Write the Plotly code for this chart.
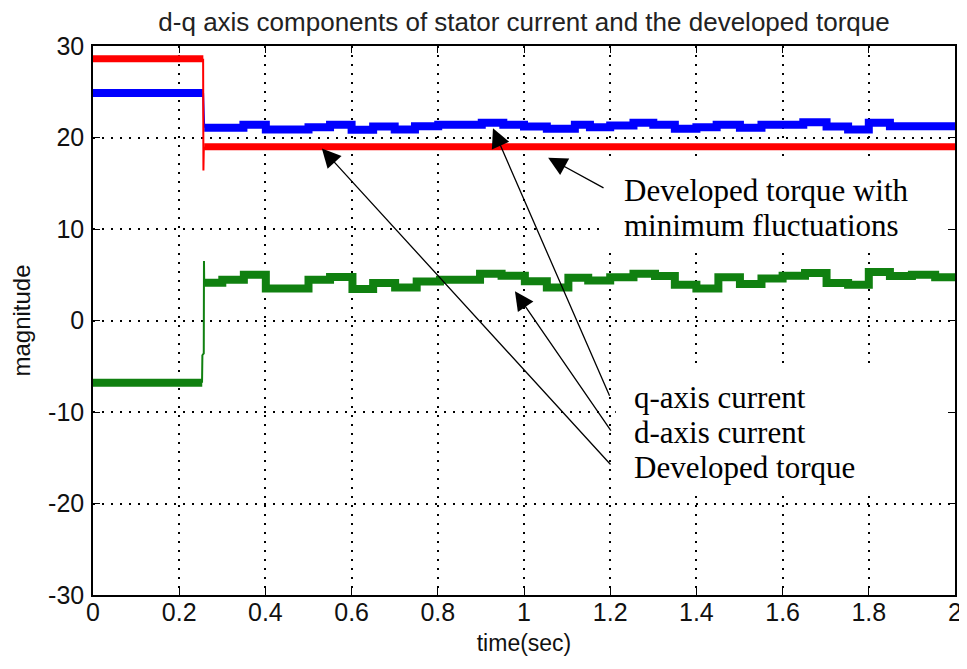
import plotly.graph_objects as go

# ---------------- data ----------------
# Developed torque (red)
torque_t = [0.0, 0.256, None, 0.258, 2.0]
torque_v = [28.6, 28.6, None, 19.0, 19.0]
torque_jump_t = [0.2555, 0.2562, 0.2570, 0.2580]
torque_jump_v = [28.6, 16.4, 18.6, 19.0]

# q-axis current (blue) - step levels (start time, level)
iq_t = [0.0, 0.256, None,
        0.258, 0.349, 0.401, 0.500, 0.550, 0.600, 0.650, 0.700, 0.747, 0.801,
        0.902, 0.952, 1.000, 1.053, 1.118, 1.153, 1.200, 1.254, 1.300, 1.350,
        1.400, 1.447, 1.501, 1.551, 1.600, 1.648, 1.702, 1.752, 1.800, 1.849, 2.0]
iq_v = [24.85, 24.85, None,
        21.06, 21.38, 20.87, 21.13, 21.38, 20.84, 21.20, 20.87, 21.24, 21.38,
        21.60, 21.38, 21.20, 20.95, 21.40, 21.13, 21.30, 21.60, 21.40, 20.95,
        21.13, 21.40, 21.06, 21.40, 21.40, 21.67, 21.20, 20.87, 21.60, 21.24, 21.24]
iq_jump_t = [0.2555, 0.2565, 0.2580]
iq_jump_v = [24.85, 21.3, 21.06]

# d-axis current (green)
id_t = [0.0, 0.2535, None,
        0.258, 0.300, 0.350, 0.401, 0.500, 0.550, 0.602, 0.650, 0.701, 0.751,
        0.805, 0.898, 0.948, 1.002, 1.053, 1.103, 1.149, 1.200, 1.254, 1.304,
        1.350, 1.400, 1.451, 1.501, 1.551, 1.600, 1.652, 1.702, 1.752, 1.800,
        1.849, 1.900, 1.954, 2.0]
id_v = [-6.8, -6.8, None,
        4.12, 4.45, 5.00, 3.50, 4.45, 4.75, 3.45, 4.10, 3.60, 4.26,
        4.45, 5.10, 4.90, 4.30, 3.60, 4.67, 4.37, 4.73, 5.10, 4.85,
        3.90, 3.50, 4.73, 4.00, 4.60, 4.90, 5.20, 4.10, 3.90, 5.30,
        4.85, 5.00, 4.73, 4.73]
id_jump_t = [0.2530, 0.2538, 0.2570, 0.2575, 0.2580]
id_jump_v = [-6.8, -3.8, -3.6, 6.5, 4.12]

x_ticks = [0, 0.2, 0.4, 0.6, 0.8, 1.0, 1.2, 1.4, 1.6, 1.8, 2.0]
x_tick_labels = ["0", "0.2", "0.4", "0.6", "0.8", "1", "1.2", "1.4", "1.6", "1.8", "2"]
y_ticks = [-30, -20, -10, 0, 10, 20, 30]
y_tick_labels = ["-30", "-20", "-10", "0", "10", "20", "30"]

title_text = "d-q axis components of stator current and the developed torque"
# text notes: (text, left t, centre value)
notes = [
    ("Developed torque with", 1.2274, 14.2),
    ("minimum fluctuations", 1.2274, 10.4),
    ("q-axis current", 1.2506, -8.4),
    ("d-axis current", 1.2506, -12.2),
    ("Developed torque", 1.2506, -16.05),
]

# arrows: (tip_t, tip_v, tail_t, tail_v)
arrows = [
    (1.056, 17.8, 1.188, 14.4),   # torque with minimum fluctuations
    (0.928, 21.0, 1.200, -8.4),   # q-axis current
    (0.979, 3.2, 1.204, -12.2),   # d-axis current
    (0.531, 18.8, 1.204, -15.9),  # developed torque
]

# ---------------- figure ----------------
BLUE = "#0000ff"
RED = "#ff0000"
GREEN = "#108010"

fig = go.Figure()

fig.add_trace(go.Scatter(x=iq_t, y=iq_v, mode="lines", line=dict(color=BLUE, width=8, shape="hv"),
                         connectgaps=False, hoverinfo="skip"))
fig.add_trace(go.Scatter(x=iq_jump_t, y=iq_jump_v, mode="lines", line=dict(color=BLUE, width=2),
                         hoverinfo="skip"))
fig.add_trace(go.Scatter(x=id_t, y=id_v, mode="lines", line=dict(color=GREEN, width=8, shape="hv"),
                         connectgaps=False, hoverinfo="skip"))
fig.add_trace(go.Scatter(x=id_jump_t, y=id_jump_v, mode="lines", line=dict(color=GREEN, width=2),
                         hoverinfo="skip"))
fig.add_trace(go.Scatter(x=torque_t, y=torque_v, mode="lines", line=dict(color=RED, width=7, shape="hv"),
                         connectgaps=False, hoverinfo="skip"))
fig.add_trace(go.Scatter(x=torque_jump_t, y=torque_jump_v, mode="lines", line=dict(color=RED, width=2),
                         hoverinfo="skip"))

# white boxes behind the text notes (cover the grid)
fig.add_shape(type="rect", xref="x", yref="y", x0=1.19, x1=2.0, y0=7.9, y1=17.3,
              fillcolor="white", line=dict(width=0), layer="between")
fig.add_shape(type="rect", xref="x", yref="y", x0=1.213, x1=2.0, y0=-18.8, y1=-4.9,
              fillcolor="white", line=dict(width=0), layer="between")

serif = "Liberation Serif, Times New Roman, serif"
for txt, tx, ty in notes:
    fig.add_annotation(x=tx, y=ty, xref="x", yref="y", text=txt, showarrow=False,
                       xanchor="left", yanchor="middle", align="left",
                       font=dict(family=serif, size=31, color="black"))

for tip_t, tip_v, tail_t, tail_v in arrows:
    fig.add_annotation(x=tip_t, y=tip_v, ax=tail_t, ay=tail_v, xref="x", yref="y",
                       axref="x", ayref="y", text="", showarrow=True,
                       arrowhead=2, arrowsize=2.9, arrowwidth=1.3, arrowcolor="black",
                       standoff=0)

sans = "Liberation Sans Narrow, Arial Narrow, Liberation Sans, Arial, sans-serif"

axis_common = dict(
    showline=True, linecolor="black", linewidth=1.5, mirror="ticks",
    ticks="inside", ticklen=7, tickwidth=1.2, tickcolor="black",
    showgrid=True, gridcolor="black", gridwidth=1.5, griddash="2px,7px",
    zeroline=False, automargin=False,
    tickfont=dict(family=sans, size=25, color="#111111"),
)

# The page body has an 8px margin, so the figure is sized to fill the window exactly.
FIG_W, FIG_H = 959, 653

fig.update_layout(
    width=FIG_W, height=FIG_H,
    margin=dict(l=85, r=12, t=38, b=66),
    paper_bgcolor="white", plot_bgcolor="white",
    showlegend=False,
    title=dict(text=title_text, x=0.5, xref="paper", xanchor="center",
               y=1 - 5 / FIG_H, yref="container", yanchor="top", pad=dict(t=0, b=0),
               font=dict(family=sans, size=26, color="#222222")),
    xaxis=dict(range=[0, 2], tickvals=x_ticks, ticktext=x_tick_labels,
               ticklabelstandoff=-6,
               title=dict(text="time(sec)", standoff=10,
                          font=dict(family=sans, size=23, color="#111111")),
               **axis_common),
    yaxis=dict(range=[-30, 30], tickvals=y_ticks, ticktext=y_tick_labels,
               ticklabelstandoff=2,
               title=dict(text="magnitude", standoff=14,
                          font=dict(family=sans, size=24, color="#111111")),
               **axis_common),
)

fig.write_html("out.html")
